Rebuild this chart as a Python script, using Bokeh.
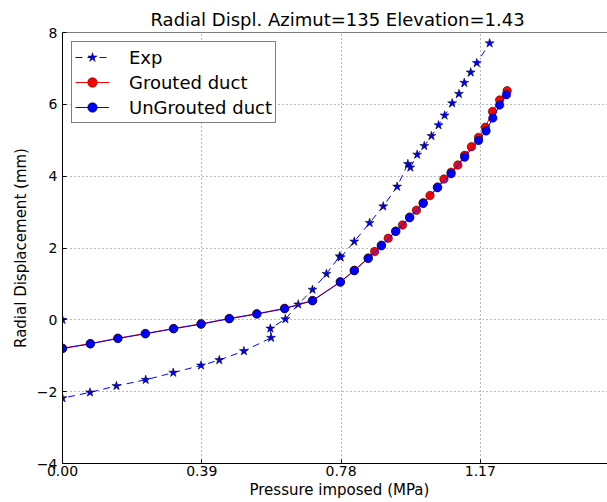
from bokeh.plotting import figure
from bokeh.models import FixedTicker, Span, Legend, LegendItem, Title
from bokeh.embed import file_html
from bokeh.resources import INLINE

# ---- data ----
pressure_exp = [0.000, 0.000, 0.077, 0.151, 0.233, 0.310, 0.388, 0.439, 0.508, 0.584, 0.582,
                0.624, 0.660, 0.700, 0.739, 0.776, 0.779, 0.817, 0.860, 0.898, 0.937, 0.967,
                0.974, 0.993, 1.013, 1.033, 1.053, 1.070, 1.091, 1.110, 1.125, 1.143, 1.160, 1.196]
disp_exp = [0.00, -2.18, -2.02, -1.84, -1.67, -1.47, -1.27, -1.12, -0.87, -0.50, -0.24,
            0.02, 0.43, 0.84, 1.28, 1.77, 1.74, 2.18, 2.70, 3.16, 3.71, 4.34,
            4.24, 4.60, 4.84, 5.12, 5.42, 5.69, 6.03, 6.29, 6.60, 6.89, 7.15, 7.70]

pressure_grouted = [0.000, 0.078, 0.155, 0.232, 0.311, 0.388, 0.467, 0.544, 0.622, 0.700, 0.778,
                    0.817, 0.856, 0.874, 0.893, 0.912, 0.933, 0.952, 0.972, 0.991, 1.010, 1.029,
                    1.050, 1.068, 1.088, 1.107, 1.126, 1.145, 1.165, 1.184, 1.204, 1.224, 1.245]
disp_grouted = [-0.79, -0.66, -0.51, -0.38, -0.24, -0.11, 0.04, 0.17, 0.32, 0.54, 1.06,
                1.38, 1.72, 1.90, 2.08, 2.27, 2.47, 2.64, 2.86, 3.05, 3.26, 3.46,
                3.70, 3.92, 4.11, 4.31, 4.58, 4.82, 5.08, 5.36, 5.80, 6.12, 6.38]

pressure_ungrouted = [0.000, 0.078, 0.155, 0.232, 0.311, 0.388, 0.467, 0.544, 0.622, 0.700, 0.778,
                      0.817, 0.856, 0.893, 0.933, 0.972, 1.010, 1.050, 1.088, 1.126, 1.165,
                      1.186, 1.205, 1.224, 1.243]
disp_ungrouted = [-0.80, -0.67, -0.52, -0.39, -0.25, -0.12, 0.03, 0.16, 0.31, 0.53, 1.05,
                  1.37, 1.71, 2.06, 2.46, 2.84, 3.24, 3.68, 4.07, 4.53, 4.99,
                  5.26, 5.62, 5.98, 6.27]

x_ticks = [0.00, 0.39, 0.78, 1.17, 1.56]
x_tick_labels = ["0.00", "0.39", "0.78", "1.17", "1.56"]
y_ticks = [-4, -2, 0, 2, 4, 6, 8]
y_tick_labels = ["\u22124", "\u22122", "0", "2", "4", "6", "8"]
X_MIN, X_MAX = 0.0, 1.526
Y_MIN, Y_MAX = -4, 8

TITLE = "Radial Displ. Azimut=135  Elevation=1.43"
X_LABEL = "Pressure imposed (MPa)"
Y_LABEL = "Radial Displacement (mm)"

FONT = "DejaVu Sans"

p = figure(width=607, height=502, output_backend="svg", toolbar_location=None,
           x_range=(X_MIN, X_MAX), y_range=(Y_MIN, Y_MAX),
           min_border_left=62, min_border_right=0, min_border_top=32, min_border_bottom=39,
           title=TITLE)
p.background_fill_color = "white"
p.border_fill_color = "white"
p.outline_line_color = None

p.title.text_font = FONT
p.title.text_font_size = "18px"
p.title.text_font_style = "normal"
p.title.text_color = "black"
p.title.align = "left"
p.title.offset = 88
p.title.standoff = 6

# axes
for ax in (p.xaxis[0], p.yaxis[0]):
    ax.axis_line_color = "black"
    ax.axis_line_width = 1
    ax.major_tick_in = 4
    ax.major_tick_out = 0
    ax.minor_tick_line_color = None
    ax.major_tick_line_color = "black"
    ax.major_label_text_font = FONT
    ax.major_label_text_font_size = "14px"
    ax.major_label_text_color = "black"

p.xaxis.ticker = FixedTicker(ticks=x_ticks)
p.xaxis.major_label_overrides = dict(zip(x_ticks, x_tick_labels))
p.xaxis.major_label_standoff = 2

p.yaxis.ticker = FixedTicker(ticks=y_ticks)
p.yaxis.major_label_overrides = dict(zip(y_ticks, y_tick_labels))
p.yaxis.major_label_standoff = 5
p.yaxis.axis_label = Y_LABEL
p.yaxis.axis_label_standoff = 4
p.yaxis.axis_label_text_font = FONT
p.yaxis.axis_label_text_font_size = "15px"
p.yaxis.axis_label_text_font_style = "normal"
p.yaxis.axis_label_text_color = "black"

# x axis title as a title panel below the axis
xlabel = Title(text=X_LABEL, align="left", offset=187, standoff=0,
               text_font=FONT, text_font_size="15px", text_font_style="normal",
               text_color="black")
p.add_layout(xlabel, "below")

# grid
for g in (p.xgrid[0], p.ygrid[0]):
    g.grid_line_color = "black"
    g.grid_line_alpha = 0.55
    g.grid_line_dash = "1 3"
    g.grid_line_width = 1

# top spine
p.add_layout(Span(location=Y_MAX, dimension="width", line_color="black", line_width=1))

# series
exp_line = p.line(pressure_exp, disp_exp, line_color="#0000ff", line_width=1, line_dash="7 5")
exp_pts = p.scatter(pressure_exp, disp_exp, marker="star", size=9.5, fill_color="#0000ff",
                    line_color="black", line_width=0.5)

gr_line = p.line(pressure_grouted, disp_grouted, line_color="#ff0000", line_width=1)
gr_pts = p.scatter(pressure_grouted, disp_grouted, marker="circle", size=8.5, fill_color="#ff0000",
                   line_color="black", line_width=0.5)

ug_line = p.line(pressure_ungrouted, disp_ungrouted, line_color="#0000ff", line_width=1)
ug_pts = p.scatter(pressure_ungrouted, disp_ungrouted, marker="circle", size=8.5, fill_color="#0000ff",
                   line_color="black", line_width=0.5)

legend = Legend(items=[
    LegendItem(label="Exp", renderers=[exp_line, exp_pts]),
    LegendItem(label="Grouted duct", renderers=[gr_line, gr_pts]),
    LegendItem(label="UnGrouted duct", renderers=[ug_line, ug_pts]),
], location="top_left")
legend.margin = 9
legend.padding = 3
legend.spacing = 1
legend.glyph_width = 34
legend.glyph_height = 24
legend.label_height = 24
legend.label_standoff = 20
legend.label_text_font = FONT
legend.label_text_font_size = "18px"
legend.label_text_color = "black"
legend.border_line_color = "black"
legend.border_line_width = 1
legend.background_fill_color = "white"
legend.background_fill_alpha = 1.0
p.add_layout(legend, "center")

open("out.html", "w").write(file_html(p, INLINE))
